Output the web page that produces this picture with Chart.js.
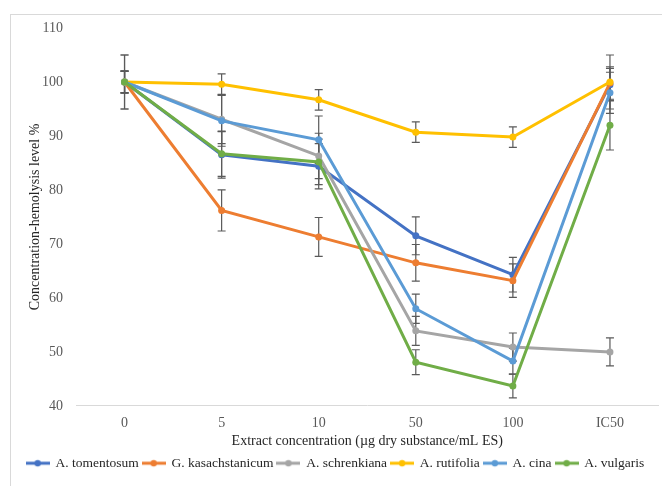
<!DOCTYPE html>
<html>
<head>
<meta charset="utf-8">
<script src="https://cdn.jsdelivr.net/npm/chart.js@4.4.0/dist/chart.umd.min.js"></script>
<style>
html,body{margin:0;padding:0;background:#fff;}
#wrap{position:relative;width:662px;height:486px;}
</style>
</head>
<body>
<div id="wrap"><canvas id="c" width="662" height="486"></canvas></div>
<script>
const categories = ['0', '5', '10', '50', '100', 'IC50'];
const seriesNames = ['A. tomentosum', 'G. kasachstanicum', 'A. schrenkiana', 'A. rutifolia', 'A. cina', 'A. vulgaris'];
const tomentosum = [100, 86.5, 84.4, 71.5, 64.3, 99.5];
const kasachstanicum = [100, 76.2, 71.3, 66.5, 63.2, 99.8];
const schrenkiana = [100, 93.1, 86.3, 53.9, 50.9, 50.0];
const rutifolia = [100, 99.6, 96.7, 90.7, 89.8, 100];
const cina = [100, 92.8, 89.3, 58.0, 48.3, 98.0];
const vulgaris = [100, 86.7, 85.2, 48.1, 43.7, 92.0];
const errTomentosum = [5, 4.3, 4.2, 3.5, 3.2, 3];
const errKasachstanicum = [2, 3.8, 3.6, 3.4, 3.1, 3];
const errSchrenkiana = [2, 4.5, 4.2, 2.7, 2.6, 2.6];
const errRutifolia = [2, 1.9, 1.9, 1.9, 1.9, 5];
const errCina = [5, 4.7, 4.4, 2.7, 2.4, 3.8];
const errVulgaris = [2, 4.2, 4.2, 2.3, 2.2, 4.6];
const yTicks = [40, 50, 60, 70, 80, 90, 100, 110];

const colors = ['#4472C4', '#ED7D31', '#A5A5A5', '#FFC000', '#5B9BD5', '#70AD47'];
const values = [tomentosum, kasachstanicum, schrenkiana, rutifolia, cina, vulgaris];
const errors = [errTomentosum, errKasachstanicum, errSchrenkiana, errRutifolia, errCina, errVulgaris];

function legendIcon(color) {
  const cv = document.createElement('canvas');
  cv.width = 24; cv.height = 10;
  const g = cv.getContext('2d');
  g.strokeStyle = color; g.lineWidth = 3;
  g.beginPath(); g.moveTo(0, 5); g.lineTo(24, 5); g.stroke();
  g.fillStyle = color;
  g.beginPath(); g.arc(12, 5, 3.2, 0, Math.PI * 2); g.fill();
  return cv;
}
const icons = colors.map(legendIcon);

const datasets = seriesNames.map((name, i) => ({
  label: name,
  data: values[i],
  errors: errors[i],
  borderColor: colors[i],
  backgroundColor: colors[i],
  borderWidth: 3,
  pointRadius: 3.5,
  pointHoverRadius: 3.5,
  pointBorderWidth: 0,
  tension: 0,
  order: seriesNames.length - i
}));

const frame = {
  id: 'frame',
  beforeDraw(chart) {
    const ctx = chart.ctx;
    ctx.save();
    ctx.strokeStyle = '#d9d9d9';
    ctx.lineWidth = 1;
    ctx.strokeRect(10.5, 14.5, 700, 600);
    ctx.restore();
  }
};

const errorBars = {
  id: 'errorBars',
  beforeDatasetsDraw(chart) {
    const ctx = chart.ctx;
    const ys = chart.scales.y;
    ctx.save();
    ctx.strokeStyle = '#5a5a5a';
    ctx.lineWidth = 1.2;
    chart.data.datasets.forEach((ds, di) => {
      const meta = chart.getDatasetMeta(di);
      meta.data.forEach((pt, j) => {
        const v = ds.data[j], e = ds.errors[j];
        if (v == null || !e) return;
        const x = pt.x;
        const yTop = ys.getPixelForValue(v + e);
        const yBot = ys.getPixelForValue(v - e);
        ctx.beginPath();
        ctx.moveTo(x, yTop); ctx.lineTo(x, yBot);
        ctx.moveTo(x - 4, yTop); ctx.lineTo(x + 4, yTop);
        ctx.moveTo(x - 4, yBot); ctx.lineTo(x + 4, yBot);
        ctx.stroke();
      });
    });
    ctx.restore();
  }
};

const serif = '"Liberation Serif", "Times New Roman", serif';

new Chart(document.getElementById('c'), {
  type: 'line',
  data: { labels: categories, datasets },
  options: {
    responsive: false,
    animation: false,
    events: [],
    layout: { padding: { left: 10, right: 1, top: 28, bottom: 6 } },
    scales: {
      x: {
        type: 'category',
        offset: true,
        grid: { display: false, drawTicks: false },
        border: { display: true, color: '#d9d9d9', width: 1 },
        ticks: { color: '#595959', font: { family: serif, size: 14 }, padding: 9 },
        title: { display: true, text: 'Extract concentration (µg dry substance/mL ES)', color: '#262626', font: { family: serif, size: 14 }, padding: { top: -8, bottom: 3 } }
      },
      y: {
        min: 40, max: 110,
        afterBuildTicks(scale) { scale.ticks = yTicks.map(v => ({ value: v })); },
        afterFit(scale) { scale.width = 66; },
        grid: { display: false, drawTicks: false },
        border: { display: false },
        ticks: { color: '#595959', font: { family: serif, size: 14 }, padding: 13 },
        title: { display: true, text: 'Concentration-hemolysis level %', color: '#262626', font: { family: serif, size: 14 }, padding: { top: 17, bottom: 0 } }
      }
    },
    plugins: {
      tooltip: { enabled: false },
      legend: {
        position: 'bottom',
        labels: {
          usePointStyle: true,
          pointStyleWidth: 22,
          padding: 4,
          color: '#262626',
          font: { family: serif, size: 13.5 },
          sort: (a, b) => a.datasetIndex - b.datasetIndex,
          generateLabels(chart) {
            const items = Chart.defaults.plugins.legend.labels.generateLabels(chart);
            items.forEach(it => { it.pointStyle = icons[it.datasetIndex]; });
            return items;
          }
        }
      }
    }
  },
  plugins: [frame, errorBars]
});
</script>
</body>
</html>
